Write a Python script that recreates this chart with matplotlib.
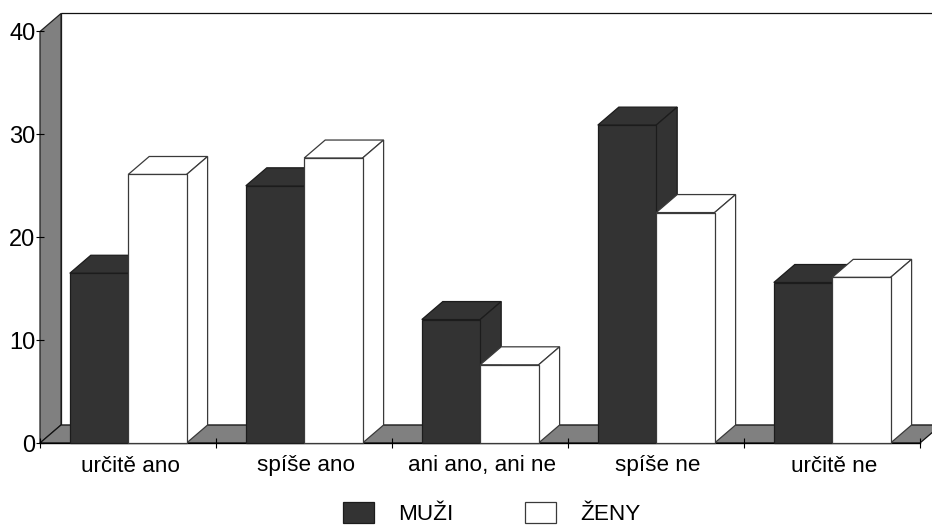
import matplotlib
matplotlib.use("Agg")
import matplotlib.pyplot as plt
from matplotlib.patches import Polygon, Patch

plt.rcParams['font.family'] = ['Liberation Sans', 'DejaVu Sans']

categories = ['určitě ano', 'spíše ano', 'ani ano, ani ne', 'spíše ne', 'určitě ne']
muzi = [16.5, 25.0, 12.0, 30.9, 15.6]
zeny = [26.1, 27.7, 7.6, 22.4, 16.1]
y_ticks = [0, 10, 20, 30, 40]

W, H = 932, 525
L, R, B, T = 40, 920, 443, 31.5
fig = plt.figure(figsize=(W / 100, H / 100), dpi=100, facecolor='white')
ax = fig.add_axes([L / W, 1 - B / H, (R - L) / W, (B - T) / H])
ax.set_xlim(0, 5)
ax.set_ylim(0, 40)
for s in ax.spines.values():
    s.set_visible(False)
ax.patch.set_visible(False)

DX = 21 / ((R - L) / 5)
DY = 18 / ((B - T) / 40)
DARK = '#333333'
GRAY = '#808080'
EDGE = '#3a3a3a'
DARK_EDGE = '#1c1c1c'


def poly(pts, fc, ec=EDGE, lw=0.9, z=2):
    ax.add_patch(Polygon(pts, closed=True, facecolor=fc, edgecolor=ec,
                         linewidth=lw, clip_on=False, zorder=z, joinstyle='miter'))


# back wall, side wall, floor
poly([(0 + DX, DY), (5 + DX, DY), (5 + DX, 40 + DY), (0 + DX, 40 + DY)], 'white', ec='#111111', z=1)
poly([(0, 0), (DX, DY), (DX, 40 + DY), (0, 40)], GRAY, ec='#222222', z=1.1)
poly([(0, 0), (5, 0), (5 + DX, DY), (DX, DY)], GRAY, ec='#111111', z=1.2)


def bar3d(x0, w, v, fc, ec, z):
    x1 = x0 + w
    poly([(x0, v), (x1, v), (x1 + DX, v + DY), (x0 + DX, v + DY)], fc, ec=ec, z=z)
    poly([(x1, 0), (x1 + DX, DY), (x1 + DX, v + DY), (x1, v)], fc, ec=ec, z=z)
    poly([(x0, 0), (x1, 0), (x1, v), (x0, v)], fc, ec=ec, z=z + 0.01)


OFFSET = 29.8 / 176
BW = 58.4 / 176
for i, (m, f) in enumerate(zip(muzi, zeny)):
    bar3d(i + OFFSET, BW, m, DARK, DARK_EDGE, 3 + i)
    bar3d(i + OFFSET + BW, BW, f, 'white', EDGE, 3.5 + i)

ax.set_yticks(y_ticks)
ax.set_xticks(range(6))
ax.set_xticklabels([''] * 6)
ax.set_xticks([i + 0.512 for i in range(5)], labels=categories, minor=True)
ax.tick_params(axis='x', which='major', direction='inout', length=7.2, width=0.8, color='black')
ax.tick_params(axis='x', which='minor', length=0, labelsize=16.2, pad=9)
ax.tick_params(axis='y', which='major', direction='inout', length=5.8, width=0.8, color='black',
               labelsize=17, pad=0.3)
ax.axhline(0, color='black', lw=1.0, zorder=2.5, clip_on=False)
for t in ax.get_yticklabels():
    t.set_zorder(20)

handles = [Patch(facecolor=DARK, edgecolor=DARK_EDGE, linewidth=0.9, label='MUŽI'),
           Patch(facecolor='white', edgecolor=EDGE, linewidth=0.9, label='ŽENY')]
fig.legend(handles=handles, loc='lower left', bbox_to_anchor=(343 / W, 1 - 525.5 / H), ncol=2,
           frameon=False, fontsize=16.2, handlelength=1.38, handleheight=1.05,
           handletextpad=1.07, columnspacing=3.2, borderpad=0, borderaxespad=0)

fig.savefig('out.png', dpi=100)
